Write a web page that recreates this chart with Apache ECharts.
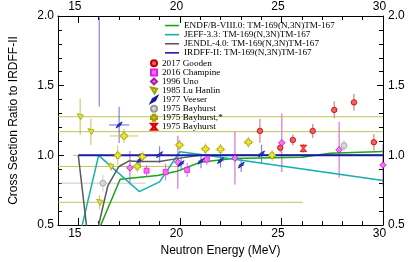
<!DOCTYPE html>
<html><head><meta charset="utf-8">
<script src="https://cdn.jsdelivr.net/npm/echarts@6/dist/echarts.min.js"></script>
<style>html,body{margin:0;padding:0;background:#fff}#c{width:415px;height:262px}</style>
</head><body><div id="c"></div>
<script>
// ---- tick labels ----
const xTicks = [15, 20, 25, 30];
const yTicks = [0.5, 1.0, 1.5, 2.0];

// ---- evaluated libraries (ratio to IRDFF-II) ----
const endfE  = [15.5, 17.06, 18.9, 19.85, 21.0, 22.6, 26.0, 27.4, 30.0];
const endfR  = [0.29, 0.828, 0.855, 0.885, 0.95, 0.978, 0.986, 1.015, 1.028];
const jeffE  = [15.0, 16.0, 18.0, 19.0, 20.0, 21.3, 30.0];
const jeffR  = [0.38, 1.0, 0.74, 0.81, 1.026, 1.0, 0.82];
const jendlE = [15.0, 15.6, 16.0, 16.45, 17.0, 17.5, 18.0, 19.0, 20.0, 21.0, 30.0];
const jendlR = [1.0, 0.25, 0.5, 0.78, 0.92, 0.96, 0.955, 0.955, 0.98, 1.0, 1.0];
const irdffE = [15.0, 30.0];
const irdffR = [1.0, 1.0];

// ---- experimental data ----
const goodenE  = [23.94, 24.94, 25.56, 26.54, 27.6, 28.57, 29.55];
const goodenR  = [1.175, 1.055, 1.11, 1.175, 1.326, 1.38, 1.094];
const goodenDR = [0.085, 0.035, 0.04, 0.05, 0.06, 0.06, 0.06];

const champE  = [18.36, 19.3, 20.36, 21.33];
const champR  = [0.89, 0.88, 0.895, 0.97];
const champDR = [0.04, 0.06, 0.05, 0.04];

const unoE  = [17.54, 19.9, 22.71, 25.02, 27.84, 30.0];
const unoR  = [0.91, 0.95, 0.98, 1.09, 1.04, 0.93];
const unoDR = [0.12, 0.19, 0.19, 0.21, 0.2, 0.15];

const luE  = [15.09, 15.62, 16.05, 16.6];
const luR  = [1.277, 1.17, 0.663, 0.92];
const luDR = [0.13, 0.095, 0.05, 0.03];
const luDE = [20, 20, 10, 3.3];

const veeE  = [16.03, 17.01, 18.03, 19.0, 20.06, 21.04, 22.0, 23.02, 24.02];
const veeR  = [2.4, 1.218, 0.966, 1.005, 0.94, 0.958, 0.962, 0.93, 1.01];
const veeDR = [1.05, 0.13, 0.05, 0.06, 0.05, 0.05, 0.05, 0.05, 0.065];
const veeDE = [0, 0.5, 0.15, 0.15, 0.15, 0.15, 0.15, 0.15, 0.15];

const bayGE  = [16.21, 28.08];
const bayGR  = [0.80, 1.07];
const bayGDR = [0.06, 0.04];
const bayGDE = [2.1, 0.1];

const baySE  = [16.94, 17.25, 17.9, 18.15, 19.98, 21.26, 22.0, 23.37, 24.54];
const baySR  = [1.0, 1.139, 0.92, 0.99, 1.074, 1.046, 1.043, 1.094, 1.0];
const baySDR = [0.07, 0.05, 0.04, 0.04, 0.04, 0.04, 0.04, 0.04, 0.04];
const baySDE = [2.2, 0.7, 0.25, 0.25, 0.25, 0.25, 0.25, 0.25, 0.25];

const bayRE  = [26.08];
const bayRR  = [1.05];
const bayRDR = [0.03];

// ---- helpers ----
const zip = (a, b) => a.map((v, i) => [v, b[i]]);
function errSeries(E, R, dR, dE, color, width) {
  const data = E.map((e, i) => {
    const de = dE ? dE[i] : 0;
    return [e, R[i], e - de, e + de, R[i] - dR[i], R[i] + dR[i]];
  });
  return {
    type: 'custom', name: '_err', clip: true, z: 2, silent: true, data,
    encode: { x: 0, y: 1 },
    renderItem(params, api) {
      const x = api.value(0), y = api.value(1);
      const ch = [];
      const a = api.coord([x, api.value(4)]), b = api.coord([x, api.value(5)]);
      ch.push({ type: 'line', shape: { x1: a[0], y1: a[1], x2: b[0], y2: b[1] }, style: { stroke: color, lineWidth: width } });
      if (api.value(3) > api.value(2)) {
        const c = api.coord([api.value(2), y]), d = api.coord([api.value(3), y]);
        ch.push({ type: 'line', shape: { x1: c[0], y1: c[1], x2: d[0], y2: d[1] }, style: { stroke: color, lineWidth: width } });
      }
      return { type: 'group', children: ch };
    }
  };
}
function marker(name, E, R, symbol, size, fill, stroke) {
  return {
    type: 'scatter', name, data: zip(E, R), symbol, symbolSize: size, z: 4, clip: true,
    itemStyle: { color: fill, borderColor: stroke, borderWidth: 0.8, opacity: 1 }
  };
}
function line(name, E, R, color, width) {
  return {
    type: 'line', name, data: zip(E, R), symbol: 'none', showSymbol: false, z: 3, clip: true,
    lineStyle: { color, width }, itemStyle: { color }
  };
}

const SYM_TRI = 'path://M0,0 L10,2 L6,10 Z';
const SYM_VEE = 'path://M10,0 L7,6 L0,10 L3,4 Z';
const SYM_PLUS = 'path://M3,0 L7,0 L7,3 L10,3 L10,7 L7,7 L7,10 L3,10 L3,7 L0,7 L0,3 L3,3 Z';
const SYM_HOUR = 'path://M0,0 L10,0 L6,5 L10,10 L0,10 L4,5 Z';

const sans = 'Liberation Sans';
const serif = 'Liberation Serif';
const black = '#000';

const n1 = 'ENDF/B-VIII.0: TM-169(N,3N)TM-167';
const n2 = 'JEFF-3.3: TM-169(N,3N)TM-167';
const n3 = 'JENDL-4.0: TM-169(N,3N)TM-167';
const n4 = 'IRDFF-II: TM-169(N,3N)TM-167';
const m1 = '2017 Gooden', m2 = '2016 Champine', m3 = '1996 Uno', m4 = '1985 Lu Hanlin',
      m5 = '1977 Veeser', m6 = '1975 Bayhurst', m7 = '1975 Bayhurst,*', m8 = '1975 Bayhurst ';

function xAxisMinor(pos) {
  return { type: 'value', min: 14, max: 30, interval: 1, position: pos,
    axisLine: { onZero: false, lineStyle: { color: black, width: 1 } },
    axisTick: { inside: true, length: 4, lineStyle: { color: black, width: 1 } },
    axisLabel: { show: false }, splitLine: { show: false } };
}
function xAxisMajor(pos, withName) {
  const ax = { type: 'value', min: 14, max: 30, position: pos,
    axisLine: { show: false, onZero: false },
    axisTick: { inside: true, length: 7, customValues: xTicks, lineStyle: { color: black, width: 1 } },
    axisLabel: { customValues: xTicks, color: black, fontFamily: sans, fontSize: 12, margin: 3, padding: [0, 7, 0, 0] },
    splitLine: { show: false } };
  if (withName) {
    ax.name = 'Neutron Energy (MeV)';
    ax.nameLocation = 'middle';
    ax.nameGap = 20;
    ax.nameTextStyle = { color: black, fontFamily: sans, fontSize: 12 };
  }
  return ax;
}
function yAxis(pos, withName) {
  const ax = { type: 'value', min: 0.5, max: 2.0, interval: 0.5, position: pos,
    axisLine: { onZero: false, lineStyle: { color: black, width: 1 } },
    axisTick: { inside: true, length: 6, lineStyle: { color: black, width: 1 } },
    minorTick: { show: true, splitNumber: 5, length: 4, lineStyle: { color: black, width: 1 } },
    axisLabel: { color: black, fontFamily: sans, fontSize: 12, margin: pos === 'left' ? 4 : 5,
      formatter: v => v.toFixed(1) },
    splitLine: { show: false }, minorSplitLine: { show: false } };
  if (withName) {
    ax.name = 'Cross Section Ratio to IRDFF-II';
    ax.nameLocation = 'middle';
    ax.nameGap = 38;
    ax.nameTextStyle = { color: black, fontFamily: sans, fontSize: 12 };
  }
  return ax;
}

const chart = echarts.init(document.getElementById('c'), null, { renderer: 'canvas' });
chart.setOption({
  animation: false,
  backgroundColor: '#fff',
  grid: { left: 54, right: 32, top: 16, bottom: 37, containLabel: false },
  xAxis: [xAxisMinor('bottom'), xAxisMajor('bottom', true), xAxisMinor('top'), xAxisMajor('top', false)],
  yAxis: [yAxis('left', true), yAxis('right', false)],
  legend: [
    { data: [n1, n2, n3, n4], orient: 'vertical', left: 165, top: 21, itemWidth: 14, itemHeight: 1.6,
      icon: 'rect', itemGap: 0, padding: 0, selectedMode: false,
      textStyle: { fontFamily: serif, fontSize: 9.2, lineHeight: 9.1, color: black } },
    { data: [m1, m2, m3, m4, m5, m6, m7, m8], orient: 'vertical', left: 150, top: 58.8, itemWidth: 6, itemHeight: 6,
      itemGap: 0, padding: 0, selectedMode: false,
      textStyle: { fontFamily: serif, fontSize: 9.2, lineHeight: 9.06, color: black } }
  ],
  series: [
    line(n1, endfE, endfR, '#14a814', 1.5),
    line(n2, jeffE, jeffR, '#10b0b0', 1.5),
    line(n3, jendlE, jendlR, '#5a5a5a', 1.5),
    line(n4, irdffE, irdffR, '#1c1ca8', 2),
    errSeries(goodenE, goodenR, goodenDR, null, 'rgba(215,70,70,0.7)', 1.2),
    errSeries(champE, champR, champDR, null, 'rgba(230,60,230,0.8)', 1),
    errSeries(unoE, unoR, unoDR, null, 'rgba(200,60,200,0.85)', 1),
    errSeries(luE, luR, luDR, luDE, 'rgba(180,180,40,0.8)', 1),
    errSeries(veeE, veeR, veeDR, veeDE, 'rgba(50,50,200,0.6)', 1.2),
    errSeries(bayGE, bayGR, bayGDR, bayGDE, 'rgba(190,190,190,0.8)', 1),
    errSeries(baySE, baySR, baySDR, baySDE, 'rgba(190,190,50,0.8)', 1),
    errSeries(bayRE, bayRR, bayRDR, null, 'rgba(255,70,70,0.8)', 1),
    marker(m1, goodenE, goodenR, 'circle', 5.5, '#f06060', '#c00000'),
    marker(m2, champE, champR, 'rect', 5, '#ff66ff', '#e020e0'),
    marker(m3, unoE, unoR, 'diamond', 6.5, '#ff70ff', '#a020a0'),
    marker(m4, luE, luR, SYM_TRI, 6, '#e4e440', '#a0a000'),
    marker(m5, veeE, veeR, SYM_VEE, 6, '#2a3ad0', '#1a1aa0'),
    marker(m6, bayGE, bayGR, 'circle', 6, '#d8d8d8', '#999999'),
    marker(m7, baySE, baySR, SYM_PLUS, 6.5, '#eded30', '#a0a000'),
    marker(m8, bayRE, bayRR, SYM_HOUR, 6.5, '#ff4a4a', '#e00000')
  ]
});
</script></body></html>
